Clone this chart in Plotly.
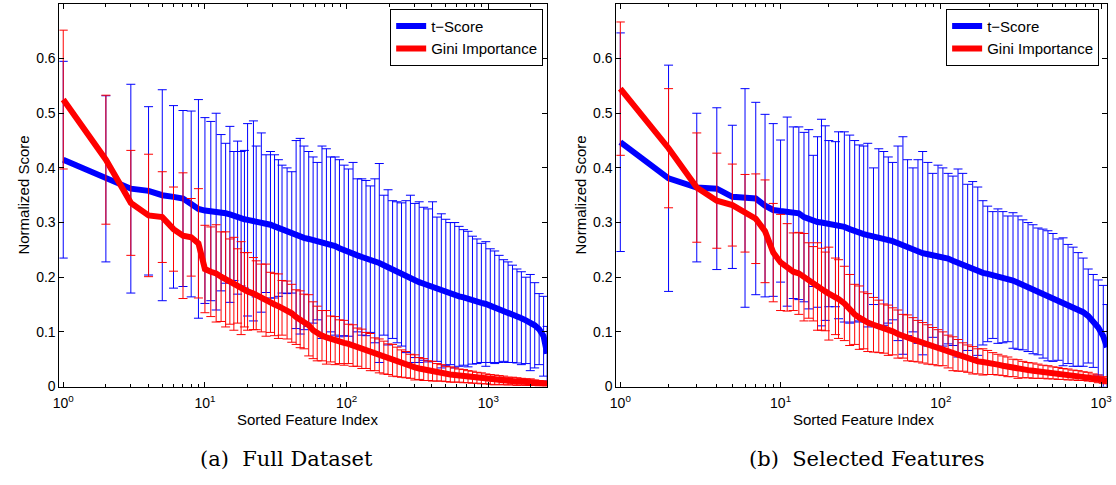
import math
import plotly.graph_objects as go

# ---------------- data: (a) Full Dataset ----------------
a_idx = [1, 2, 3, 4, 5, 6, 7, 8, 9, 10, 11, 12, 13, 14, 15, 16, 17, 18, 19, 20,
         22, 23, 25, 27, 29, 31, 33, 35, 38, 41, 44, 47, 50, 54, 58, 62, 67, 72, 77, 83,
         89, 96, 103, 111, 119, 128, 137, 147, 158, 170, 183, 196, 211, 227, 244, 262, 282, 303, 325, 350,
         376, 404, 434, 466, 501, 539, 579, 622, 669, 719, 773, 831, 893, 960, 1032, 1109, 1192, 1282, 1378, 1481,
         1592, 1711, 1839, 1977, 2125, 2284, 2455, 2600]
a_t_mean = [.415, .380, .362, .358, .350, .347, .344, .334, .325, .322, .321, .320, .318, .317, .315, .312, .309, .307, .306, .305,
            .303, .302, .300, .298, .296, .293, .290, .288, .285, .282, .278, .275, .272, .270, .268, .266, .264, .262, .260, .257,
            .253, .249, .245, .243, .240, .237, .235, .233, .230, .226, .222, .218, .214, .209, .205, .201, .197, .194, .191, .188,
            .185, .182, .178, .175, .172, .170, .167, .165, .163, .160, .158, .156, .153, .151, .148, .145, .142, .139, .136, .133,
            .129, .125, .121, .117, .112, .105, .092, .060]
a_t_err = [.180, .152, .191, .154, .193, .167, .161, .170, .200, .170, .164, .180, .143, .128, .161, .118, .140, .123, .126, .176,
           .183, .138, .164, .126, .134, .131, .125, .117, .115, .111, .172, .179, .168, .160, .152, .144, .176, .173, .160, .163,
           .162, .156, .153, .167, .140, .143, .142, .134, .150, .182, .128, .142, .126, .129, .131, .139, .153, .141, .147, .140,
           .140, .156, .132, .141, .134, .130, .133, .128, .124, .124, .117, .114, .109, .114, .104, .103, .098, .093, .092, .089,
           .086, .085, .079, .088, .078, .065, .073, .050]
a_g_mean = [.525, .415, .336, .313, .310, .288, .276, .273, .262, .215, .210, .207, .201, .196, .192, .188, .184, .180, .177, .174,
            .170, .167, .162, .158, .154, .150, .147, .144, .140, .134, .127, .123, .119, .112, .103, .097, .093, .090, .087, .084,
            .082, .080, .078, .075, .072, .069, .066, .063, .059, .056, .053, .050, .048, .045, .042, .040, .037, .035, .033, .031,
            .029, .028, .026, .025, .023, .022, .021, .020, .019, .018, .017, .016, .015, .014, .013, .012, .012, .011, .010, .010,
            .009, .009, .008, .008, .007, .006, .006, .005]
a_g_err = [.127, .118, .096, .112, .083, .077, .115, .071, .100, .080, .082, .089, .082, .087, .078, .085, .068, .085, .068, .071,
           .066, .063, .062, .066, .055, .057, .059, .050, .053, .053, .050, .052, .050, .056, .052, .050, .046, .049, .042, .044,
           .040, .041, .036, .038, .035, .036, .033, .034, .030, .031, .030, .028, .029, .027, .025, .024, .022, .023, .020, .020,
           .018, .018, .016, .015, .014, .014, .013, .012, .012, .011, .011, .010, .010, .009, .009, .009, .008, .008, .007, .007,
           .007, .006, .006, .006, .005, .005, .004, .004]

# ---------------- data: (b) Selected Features ----------------
b_idx = [1, 2, 3, 4, 5, 6, 7, 8, 9, 10, 11, 12, 13, 14, 15, 16, 17, 18, 19, 20,
         22, 23, 25, 27, 29, 31, 33, 35, 38, 41, 44, 47, 50, 54, 58, 62, 67, 72, 77, 83,
         89, 96, 103, 111, 119, 128, 137, 147, 158, 170, 183, 196, 211, 227, 244, 262, 282, 303, 325, 350,
         376, 404, 434, 466, 501, 539, 579, 622, 669, 719, 773, 831, 893, 960, 1032, 1089]
b_t_mean = [.447, .381, .364, .362, .347, .345, .344, .331, .323, .321, .320, .318, .317, .310, .306, .303, .301, .300, .299, .298,
            .297, .295, .292, .288, .284, .281, .279, .277, .275, .273, .271, .268, .266, .262, .258, .254, .250, .247, .244, .242,
            .240, .239, .237, .234, .230, .226, .222, .218, .214, .211, .208, .206, .204, .202, .200, .197, .194, .190, .186, .182,
            .178, .174, .170, .166, .163, .159, .155, .151, .146, .141, .136, .129, .120, .108, .092, .072]
b_t_err = [.200, .207, .136, .148, .131, .200, .176, .167, .158, .130, .173, .157, .158, .155, .164, .120, .156, .189, .178, .152,
           .151, .171, .174, .172, .166, .161, .161, .168, .125, .162, .159, .152, .144, .178, .199, .161, .150, .168, .186, .168,
           .150, .166, .163, .156, .155, .172, .168, .152, .161, .154, .132, .124, .116, .123, .120, .115, .124, .122, .119, .118,
           .118, .116, .118, .119, .117, .111, .117, .109, .109, .104, .099, .086, .085, .087, .093, .078]
b_g_mean = [.545, .436, .364, .340, .332, .317, .307, .284, .245, .227, .218, .210, .207, .200, .194, .188, .183, .178, .174, .170,
            .165, .160, .152, .140, .132, .126, .121, .117, .113, .110, .106, .103, .101, .096, .092, .089, .086, .083, .080, .077,
            .074, .071, .069, .064, .060, .057, .054, .051, .048, .046, .045, .044, .042, .040, .038, .036, .034, .032, .031, .030,
            .029, .028, .027, .026, .025, .024, .023, .022, .021, .020, .019, .018, .016, .014, .012, .010]
b_g_err = [.122, .109, .100, .087, .075, .071, .082, .094, .090, .088, .080, .071, .075, .080, .069, .068, .080, .075, .072, .085,
           .070, .072, .068, .065, .055, .058, .052, .053, .050, .048, .045, .046, .043, .044, .040, .042, .040, .038, .037, .036,
           .034, .033, .031, .030, .031, .029, .026, .025, .025, .023, .024, .022, .020, .019, .018, .018, .016, .017, .015, .014,
           .014, .013, .012, .012, .011, .011, .010, .010, .009, .009, .008, .008, .007, .007, .006, .005]

series_names = ["t\u2212Score", "Gini Importance"]
y_tick_vals = [0, 0.1, 0.2, 0.3, 0.4, 0.5, 0.6]
y_tick_text = ["0", "0.1", "0.2", "0.3", "0.4", "0.5", "0.6"]
x_tick_vals = [1, 10, 100, 1000]
x_tick_text = ["10<sup>0</sup>", "10<sup>1</sup>", "10<sup>2</sup>", "10<sup>3</sup>"]
a_xlim = [0.94, 2600]
b_xlim = [0.945, 1089]
captions = ["(a)  Full Dataset", "(b)  Selected Features"]

W, H = 1116, 485
SANS = "Liberation Sans"
BLUE = "#0000ff"
RED = "#ff0000"

fig = go.Figure()


def add_panel(idx, tm, te, gm, ge, xa, ya, legend):
    for mean, err, col, name in ((tm, te, BLUE, series_names[0]), (gm, ge, RED, series_names[1])):
        fig.add_trace(go.Scatter(
            x=idx, y=mean, mode="markers", xaxis=xa, yaxis=ya,
            marker=dict(size=1, color="rgba(0,0,0,0)"),
            error_y=dict(type="data", array=err, visible=True, color=col, thickness=1, width=4.5),
            showlegend=False, hoverinfo="skip"))
        fig.add_trace(go.Scatter(
            x=idx, y=mean, mode="lines", xaxis=xa, yaxis=ya, name=name,
            line=dict(color=col, width=6), legend=legend))


add_panel(a_idx, a_t_mean, a_t_err, a_g_mean, a_g_err, "x", "y", "legend")
add_panel(b_idx, b_t_mean, b_t_err, b_g_mean, b_g_err, "x2", "y2", "legend2")

ydom = [(H - 393) / H, (H - 4) / H]
dom_a = [53 / W, 546 / W]
dom_b = [616 / W, 1112 / W]


def xaxis_cfg(dom, lim, anchor):
    return dict(type="log", domain=dom, anchor=anchor,
                range=[math.log10(lim[0]), math.log10(lim[1])],
                tickvals=x_tick_vals, ticktext=x_tick_text,
                ticks="inside", ticklen=5, tickcolor="black", tickwidth=1,
                ticklabeloverflow="allow", ticklabelstandoff=4,
                minor=dict(dtick="D1", ticks="inside", ticklen=3, tickcolor="black", showgrid=False),
                showline=True, linecolor="black", linewidth=1, mirror="allticks",
                showgrid=False, zeroline=False,
                tickfont=dict(family=SANS, size=14, color="black"))


def yaxis_cfg(anchor):
    return dict(domain=ydom, anchor=anchor, range=[0, 0.7],
                tickvals=y_tick_vals, ticktext=y_tick_text,
                ticks="inside", ticklen=5, tickcolor="black", tickwidth=1,
                showline=True, linecolor="black", linewidth=1, mirror="allticks",
                showgrid=False, zeroline=False,
                tickfont=dict(family=SANS, size=14, color="black"))


legend_common = dict(xanchor="right", yanchor="top", bgcolor="white",
                     bordercolor="black", borderwidth=1,
                     font=dict(family=SANS, size=15, color="black"),
                     tracegroupgap=0, itemwidth=30)

annotations = []
for cx, xtitle_x in ((17, 304), (580, 866)):
    annotations.append(dict(text="Normalized Score", x=cx / W, y=(H - 198) / H, xref="paper", yref="paper",
                            textangle=-90, showarrow=False, xanchor="center", yanchor="middle",
                            font=dict(family=SANS, size=15, color="black")))
    annotations.append(dict(text="Sorted Feature Index", x=xtitle_x / W, y=(H - 427) / H, xref="paper", yref="paper",
                            showarrow=False, xanchor="center", yanchor="middle",
                            font=dict(family=SANS, size=15, color="black")))
for cap, cx in zip(captions, (283, 869)):
    annotations.append(dict(text=cap, x=cx / W, y=(H - 467) / H, xref="paper", yref="paper",
                            showarrow=False, xanchor="center", yanchor="middle",
                            font=dict(family="DejaVu Serif", size=21, color="black")))

fig.update_layout(
    width=W, height=H, margin=dict(l=0, r=0, t=0, b=0),
    paper_bgcolor="white", plot_bgcolor="white",
    xaxis=xaxis_cfg(dom_a, a_xlim, "y"),
    yaxis=yaxis_cfg("x"),
    xaxis2=xaxis_cfg(dom_b, b_xlim, "y2"),
    yaxis2=yaxis_cfg("x2"),
    legend=dict(x=542 / W, y=(H - 9) / H, **legend_common),
    legend2=dict(x=1104 / W, y=(H - 9) / H, **legend_common),
    annotations=annotations,
    showlegend=True,
)

fig.write_html("out.html")
